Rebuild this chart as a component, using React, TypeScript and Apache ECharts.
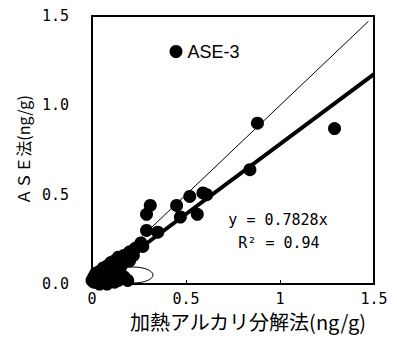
import React, { useEffect, useRef } from "react";
import * as echarts from "echarts";

const xTickLabels = ["0", "0.5", "1", "1.5"];
const yTickLabels = ["0.0", "0.5", "1.0", "1.5"];
const seriesName = "ASE-3";
const xName = "加熱アルカリ分解法(ng/g)";
const yName = "ＡＳＥ法(ng/g)";
const equationText = "y = 0.7828x";
const r2Text = "R² = 0.94";
const slope = 0.7828;
const identityLine = [[0, 0], [1.47, 1.47]];
const regressionX = [0, 1.5];

const ase3Points: number[][] = [
  [0.88, 0.9], [1.29, 0.87], [0.84, 0.64], [0.59, 0.51], [0.61, 0.5],
  [0.52, 0.49], [0.45, 0.44], [0.31, 0.44], [0.29, 0.39], [0.56, 0.39],
  [0.47, 0.375], [0.29, 0.3], [0.35, 0.29], [0.26, 0.23], [0.23, 0.2],
  [0.2, 0.18], [0.17, 0.16], [0.14, 0.15], [0.12, 0.13], [0.1, 0.12],
  [0.08, 0.1], [0.06, 0.09], [0.04, 0.07], [0.02, 0.06], [0.01, 0.04],
  [0.0, 0.02], [0.01, 0.01], [0.03, 0.02], [0.05, 0.01], [0.07, 0.03],
  [0.09, 0.02], [0.11, 0.04], [0.13, 0.05], [0.15, 0.06], [0.04, 0.0],
  [0.08, 0.0], [0.12, 0.01], [0.14, 0.02], [0.19, 0.02], [0.17, 0.04],
  [0.02, 0.03], [0.06, 0.05], [0.1, 0.07], [0.15, 0.09],
  [0.16, 0.11], [0.2, 0.13], [0.13, 0.09], [0.22, 0.16], [0.27, 0.21],
];

const CJK = "'Noto Sans CJK JP', sans-serif";
const MONO = "'DejaVu Sans Mono', monospace";
const SANS = "'Liberation Sans', Arial, sans-serif";

export default function App() {
  const ref = useRef<HTMLDivElement>(null);
  useEffect(() => {
    if (!ref.current) return;
    const chart = echarts.init(ref.current, undefined, { renderer: "svg" });
    const regression = regressionX.map((x) => [x, x * slope]);
    chart.setOption({
      animation: false,
      backgroundColor: "#fff",
      textStyle: { fontFamily: CJK, color: "#000" },
      grid: {
        left: 92, right: 23, top: 16, bottom: 54,
        show: true, borderColor: "#000", borderWidth: 2, backgroundColor: "transparent",
      },
      legend: {
        data: [{ name: seriesName, icon: "circle" }],
        left: 164.5, top: 37.5,
        itemWidth: 13, itemHeight: 13,
        textStyle: { fontSize: 18, color: "#000", fontFamily: SANS },
      },
      xAxis: {
        type: "value", min: 0, max: 1.5, interval: 0.5,
        name: xName, nameLocation: "middle", nameGap: 27,
        nameTextStyle: { fontSize: 20, color: "#000", fontFamily: CJK, padding: [0, 0, 0, 30] },
        axisLine: { show: true, lineStyle: { color: "#000", width: 2 } },
        axisTick: { show: true, inside: true, length: 4, lineStyle: { color: "#000" } },
        axisLabel: {
          fontSize: 15, color: "#000", margin: 7, fontFamily: MONO,
          formatter: (v: number) => xTickLabels[Math.round(v / 0.5)] ?? "",
        },
        splitLine: { show: false },
      },
      yAxis: {
        type: "value", min: 0, max: 1.5, interval: 0.5,
        name: yName, nameLocation: "middle", nameGap: 56, nameRotate: 90,
        nameTextStyle: { fontSize: 16, color: "#000", fontFamily: CJK },
        axisLine: { show: true, lineStyle: { color: "#000", width: 2 } },
        axisTick: { show: false },
        axisLabel: {
          fontSize: 15, color: "#000", margin: 23, fontFamily: MONO,
          formatter: (v: number) => yTickLabels[Math.round(v / 0.5)] ?? "",
        },
        splitLine: { show: false },
      },
      series: [
        {
          name: "identity", type: "line", data: identityLine, showSymbol: false,
          lineStyle: { color: "#000", width: 1 }, z: 3, silent: true,
        },
        {
          name: "regression", type: "line", data: regression, showSymbol: false,
          lineStyle: { color: "#000", width: 4 }, z: 3, silent: true,
        },
        {
          name: seriesName, type: "scatter", data: ase3Points, symbol: "circle",
          symbolSize: 13, itemStyle: { color: "#000", opacity: 1 }, z: 4,
        },
      ],
      graphic: [
        {
          type: "ellipse", shape: { cx: 133, cy: 275, rx: 20, ry: 8 }, z: 1,
          style: { fill: "none", stroke: "#000", lineWidth: 1 },
        },
        {
          type: "text", x: 278, y: 220, z: 10,
          style: { text: equationText, fontSize: 15, fill: "#000", fontFamily: MONO, align: "center", verticalAlign: "middle" },
        },
        {
          type: "text", x: 279, y: 243, z: 10,
          style: { text: r2Text, fontSize: 15, fill: "#000", fontFamily: MONO, align: "center", verticalAlign: "middle" },
        },
      ],
    });
    return () => chart.dispose();
  }, []);
  return <div ref={ref} style={{ width: 397, height: 338, position: "absolute", left: 0, top: 0 }} />;
}
